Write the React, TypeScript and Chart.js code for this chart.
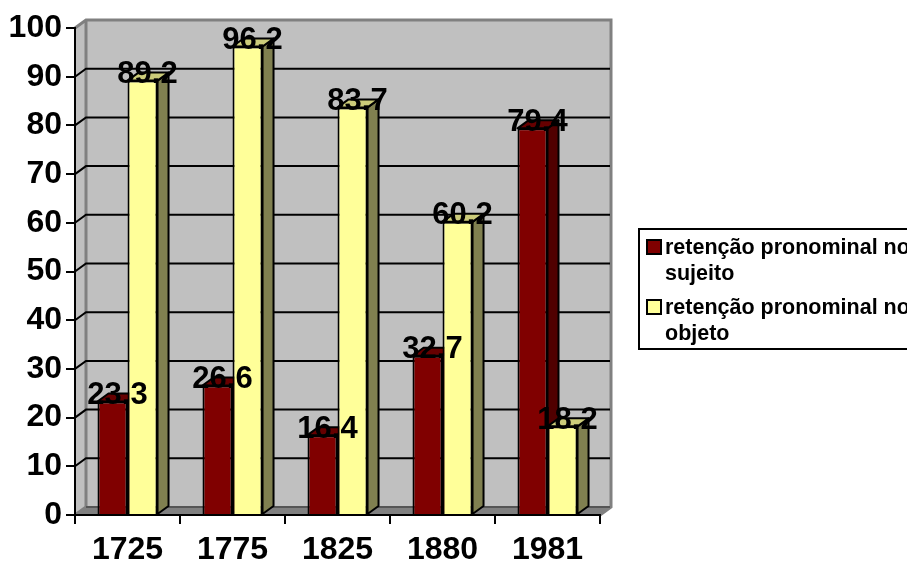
import React, { useEffect, useRef } from "react";
import { Chart, registerables } from "chart.js";

Chart.register(...registerables);

const years = ["1725", "1775", "1825", "1880", "1981"];
const sujeito = [23.3, 26.6, 16.4, 32.7, 79.4];
const objeto = [89.2, 96.2, 83.7, 60.2, 18.2];
const legendSujeito = ["retenção pronominal no", "sujeito"];
const legendObjeto = ["retenção pronominal no", "objeto"];

const DX = 11;
const DY = 8;
const FONT = "'Liberation Sans', Arial, sans-serif";
const faces = [
  { front: "#800000", side: "#500000", top: "#660000" },
  { front: "#FFFF99", side: "#808050", top: "#CCCC7A" },
];

function poly(ctx: CanvasRenderingContext2D, pts: number[][], fill: string, stroke?: string, lw = 2) {
  ctx.beginPath();
  pts.forEach((p, i) => (i ? ctx.lineTo(p[0], p[1]) : ctx.moveTo(p[0], p[1])));
  ctx.closePath();
  ctx.fillStyle = fill;
  ctx.fill();
  if (stroke) {
    ctx.strokeStyle = stroke;
    ctx.lineWidth = lw;
    ctx.stroke();
  }
}

const walls = {
  id: "walls",
  beforeDraw(chart: any) {
    const { ctx, chartArea: a, scales } = chart;
    const { left: l, right: r, top, bottom: b } = a;
    ctx.save();
    poly(ctx, [[l + DX, top - DY], [r + DX, top - DY], [r + DX, b - DY], [l + DX, b - DY]], "#C0C0C0");
    poly(ctx, [[l, b], [l + DX, b - DY], [l + DX, top - DY], [l, top]], "#C0C0C0");
    poly(ctx, [[l, b], [r, b], [r + DX, b - DY], [l + DX, b - DY]], "#808080");
    ctx.strokeStyle = "#808080";
    ctx.lineWidth = 3;
    ctx.beginPath();
    ctx.moveTo(l, top);
    ctx.lineTo(l + DX, top - DY);
    ctx.lineTo(r + DX, top - DY);
    ctx.lineTo(r + DX, b - DY);
    ctx.lineTo(r, b);
    ctx.moveTo(l + DX, top - DY);
    ctx.lineTo(l + DX, b - DY);
    ctx.lineTo(l, b);
    ctx.stroke();
    ctx.lineWidth = 2;
    for (const t of scales.y.ticks) {
      if (t.value === 100) continue;
      const y = scales.y.getPixelForValue(t.value);
      ctx.strokeStyle = t.value === 0 ? "#555" : "#000";
      ctx.beginPath();
      if (t.value === 0) {
        ctx.moveTo(l + DX, y - DY);
      } else {
        ctx.moveTo(l, y);
        ctx.lineTo(l + DX, y - DY);
      }
      ctx.lineTo(r + DX - 1, y - DY);
      ctx.stroke();
    }
    ctx.restore();
  },
};

const bars3d = {
  id: "bars3d",
  beforeDatasetsDraw(chart: any) {
    const { ctx } = chart;
    ctx.save();
    ctx.lineJoin = "round";
    chart.data.datasets.forEach((_: any, i: number) => {
      chart.getDatasetMeta(i).data.forEach((bar: any) => {
        const L = bar.x - bar.width / 2;
        const R = bar.x + bar.width / 2;
        const T = bar.y;
        const B = bar.base;
        poly(ctx, [[R, T], [R + DX, T - DY], [R + DX, B - DY], [R, B]], faces[i].side, "#000");
        poly(ctx, [[L, T], [L + DX, T - DY], [R + DX, T - DY], [R, T]], faces[i].top, "#000");
      });
    });
    ctx.restore();
  },
  afterDatasetsDraw(chart: any) {
    const { ctx } = chart;
    ctx.save();
    ctx.font = `bold 31px ${FONT}`;
    ctx.fillStyle = "#000";
    ctx.textAlign = "center";
    ctx.textBaseline = "middle";
    chart.data.datasets.forEach((ds: any, i: number) => {
      chart.getDatasetMeta(i).data.forEach((bar: any, j: number) => {
        ctx.fillText(String(ds.data[j]), bar.x + 5, bar.y - 6);
      });
    });
    ctx.restore();
  },
};

const legendBox = {
  id: "legendBox",
  afterDraw(chart: any) {
    const { ctx } = chart;
    ctx.save();
    ctx.strokeStyle = "#000";
    ctx.lineWidth = 2;
    ctx.fillStyle = "#fff";
    ctx.fillRect(639, 229, 300, 120);
    ctx.strokeRect(639, 229, 300, 120);
    const rows = [
      { lines: chart.data.datasets[0].label, sw: 240, y: 248 },
      { lines: chart.data.datasets[1].label, sw: 300, y: 308 },
    ];
    rows.forEach((row, i) => {
      ctx.fillStyle = faces[i].front;
      ctx.fillRect(647, row.sw, 14, 14);
      ctx.strokeRect(647, row.sw, 14, 14);
      ctx.fillStyle = "#000";
      ctx.font = `bold 21.5px ${FONT}`;
      ctx.textAlign = "left";
      ctx.textBaseline = "middle";
      row.lines.forEach((t: string, k: number) => ctx.fillText(t, 665, row.y + k * 26));
    });
    ctx.restore();
  },
};

export default function App() {
  const ref = useRef<HTMLCanvasElement>(null);
  useEffect(() => {
    document.body.style.margin = "0";
    const chart = new Chart(ref.current as HTMLCanvasElement, {
      type: "bar",
      data: {
        labels: years,
        datasets: [
          { label: legendSujeito as any, data: sujeito, backgroundColor: faces[0].front, borderColor: "#000", borderWidth: 2 },
          { label: legendObjeto as any, data: objeto, backgroundColor: faces[1].front, borderColor: "#000", borderWidth: 2 },
        ],
      },
      options: {
        responsive: false,
        animation: false,
        layout: { padding: { top: 28, right: 307, left: 0, bottom: 0 } },
        plugins: { legend: { display: false }, tooltip: { enabled: false }, title: { display: false } },
        datasets: { bar: { categoryPercentage: 0.572, barPercentage: 1 } },
        scales: {
          x: {
            afterFit: (s: any) => { s.height = 48; },
            grid: { color: "#000", lineWidth: 2, drawOnChartArea: false, tickLength: 9 },
            border: { color: "#000", width: 2 },
            ticks: { color: "#000", font: { family: FONT, weight: "bold", size: 32 }, padding: 7, maxRotation: 0 },
          },
          y: {
            min: 0,
            max: 100,
            afterFit: (s: any) => { s.width = 75; },
            grid: { color: "#000", lineWidth: 2, drawOnChartArea: false, tickLength: 9 },
            border: { color: "#000", width: 2 },
            ticks: { stepSize: 10, color: "#000", font: { family: FONT, weight: "bold", size: 32 }, padding: 4 },
          },
        },
      } as any,
      plugins: [walls, bars3d, legendBox],
    });
    return () => chart.destroy();
  }, []);
  return <canvas ref={ref} width={907} height={563} style={{ display: "block", width: 907, height: 563 }} />;
}
